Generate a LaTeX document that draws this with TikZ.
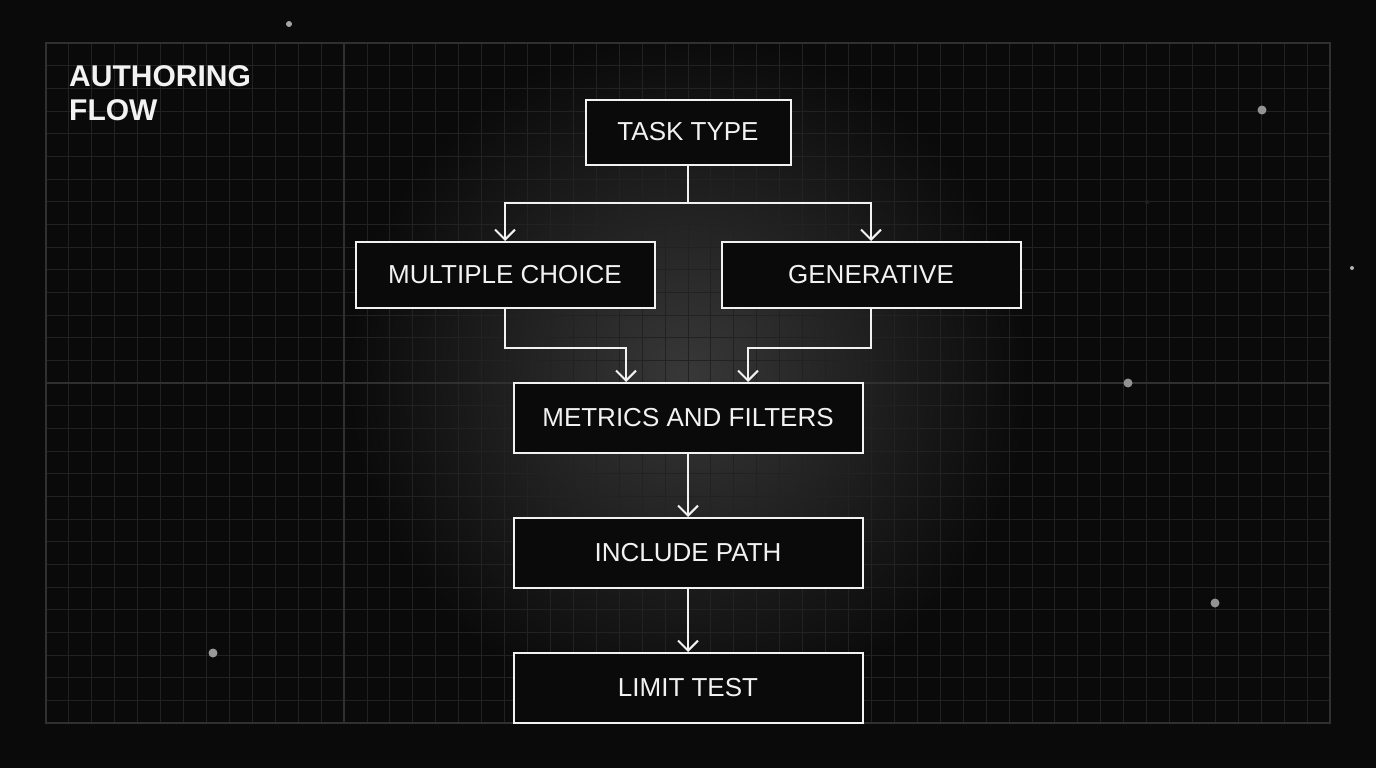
\documentclass[tikz,border=0pt]{standalone}
\usepackage{fontspec}
\setmainfont{Liberation Sans}
\usetikzlibrary{arrows.meta}

\definecolor{bgcol}{HTML}{0A0A0A}
\definecolor{minorgrid}{HTML}{222222}
\definecolor{majorgrid}{HTML}{303030}
\definecolor{glowcol}{HTML}{383838}
\definecolor{inkcol}{HTML}{F2F2F2}

\tikzset{
  stepbox/.style={draw=inkcol, line width=2pt, fill=bgcol, text=inkcol,
    inner sep=0pt, font=\fontsize{26}{30}\selectfont},
  smallbox/.style={stepbox, minimum width=205pt, minimum height=65pt},
  midbox/.style={stepbox, minimum width=299pt, minimum height=66pt},
  widebox/.style={stepbox, minimum width=349pt, minimum height=70pt},
  link/.style={draw=inkcol, line width=2pt},
  arrowlink/.style={link, -{Straight Barb[length=10pt, width=20pt]}},
  speck/.style={fill=#1, draw=none}
}

\begin{document}
\begin{tikzpicture}[x=1pt, y=-1pt]
            \useasboundingbox[fill=bgcol] (0,0) rectangle (1376,768);

            \begin{scope}
              \clip (46,43) rectangle (1330,723);
              \shade[inner color=glowcol, outer color=bgcol] (688,375) circle[radius=340];
            \end{scope}

            \foreach \i in {0,...,56}
              \draw[minorgrid, line width=1pt] ({46+\i*22.93},43) -- ({46+\i*22.93},723);
            \foreach \j in {0,...,30}
              \draw[minorgrid, line width=1pt] (46,{43+\j*22.667}) -- (1330,{43+\j*22.667});
            \draw[majorgrid, line width=1.3pt] (344,43) -- (344,723);
            \draw[majorgrid, line width=1.3pt] (46,383) -- (1330,383);
            \draw[majorgrid, line width=1.3pt] (46,43) rectangle (1330,723);

            \fill[speck=gray!70] (289,24) circle[radius=3];
            \fill[speck=gray!85!white] (1262,110) circle[radius=4.5];
            \fill[speck=gray!60] (1352,268) circle[radius=2];
            \fill[speck=gray!25!black] (1147,202) circle[radius=2];
            \fill[speck=gray!85!white] (1128,383) circle[radius=4.5];
            \fill[speck=gray!85!white] (1215,603) circle[radius=4.5];
            \fill[speck=gray!80!white] (213,653) circle[radius=4.5];

            \node[anchor=base west, inner sep=0pt, text=inkcol, align=left,
              font=\bfseries\fontsize{30}{34}\selectfont] (title) at (69,120)
              {AUTHORING\\FLOW};

            \node[smallbox] (task) at (688,132) {TASK TYPE};
            \node[midbox] (choice) at (505,275) {MULTIPLE CHOICE};
            \node[midbox] (generative) at (871,275) {GENERATIVE};
            \node[widebox] (metrics) at (688,418) {METRICS AND FILTERS};
            \node[widebox] (include) at (688,553) {INCLUDE PATH};
            \node[widebox] (limit) at (688,688) {LIMIT TEST};

            \coordinate (split) at (688,203);
            \draw[link] (task.south) -- (split);
            \draw[arrowlink] (split) -| (choice.north);
            \draw[arrowlink] (split) -| (generative.north);

            \draw[arrowlink] (choice.south) -- ++(0,39) -| ([xshift=-62pt]metrics.north);
            \draw[arrowlink] (generative.south) -- ++(0,39) -| ([xshift=60pt]metrics.north);

            \draw[arrowlink] (metrics.south) -- (include.north);
            \draw[arrowlink] (include.south) -- (limit.north);
\end{tikzpicture}
\end{document}
